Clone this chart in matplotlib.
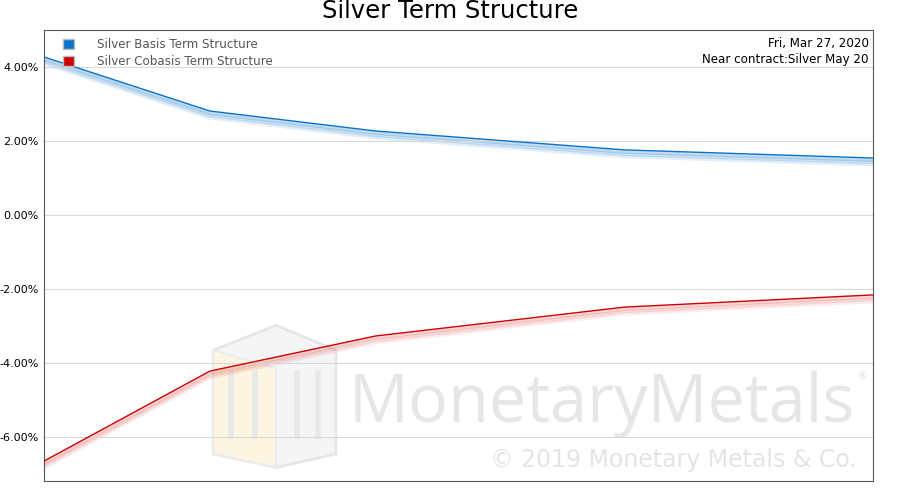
import matplotlib.pyplot as plt
from matplotlib.patches import Polygon
from matplotlib.ticker import FuncFormatter

# months after the near contract (May 20, Jul 20, Sep 20, Dec 20, Mar 21)
months = [0, 2, 4, 7, 10]
basis = [4.27, 2.81, 2.27, 1.76, 1.54]
cobasis = [-6.65, -4.22, -3.27, -2.49, -2.16]

fig = plt.figure(figsize=(9, 5), dpi=100)
ax = fig.add_axes([0.049, 0.038, 0.921, 0.902])

# watermark
ax.text(0.978, 0.131, 'MonetaryMetals', transform=ax.transAxes, ha='right', va='baseline',
        fontsize=48, color='#e6e6e6', zorder=0, family='Open Sans')
ax.text(0.993, 0.225, '®', transform=ax.transAxes, ha='right', fontsize=8, color='#e2e2e2', zorder=0)
ax.text(0.98, 0.031, '© 2019 Monetary Metals & Co.', transform=ax.transAxes, ha='right',
        va='baseline', fontsize=17, color='#e4e4e4', zorder=0)
hx = [0.204, 0.28, 0.352, 0.352, 0.28, 0.204]
hy = [0.29, 0.345, 0.29, 0.06, 0.03, 0.06]
ax.add_patch(Polygon(list(zip(hx, hy)), closed=True, transform=ax.transAxes,
                     facecolor='#f5f5f5', edgecolor='#e6e6e6', lw=2, zorder=0))
ax.add_patch(Polygon([(0.204, 0.29), (0.28, 0.25), (0.28, 0.03), (0.204, 0.06)], closed=True,
                     transform=ax.transAxes, facecolor='#fbf5e2', edgecolor='#ececec', lw=1.5, zorder=0))
for bx in [0.225, 0.255, 0.305, 0.33]:
    ax.plot([bx, bx], [0.1, 0.24], transform=ax.transAxes, color='#e8e8e8', lw=4, zorder=0)

# soft shadow under the lines
for off, a in [(-0.06, 0.25), (-0.12, 0.18), (-0.18, 0.12)]:
    ax.plot(months, [v + off for v in basis], color='#0a72c8', lw=2.5, alpha=a, zorder=1)
    ax.plot(months, [v + off for v in cobasis], color='#e03030', lw=2.5, alpha=a * 0.8, zorder=1)

ax.plot(months, basis, color='#0a72c8', lw=1, zorder=3, label='Silver Basis Term Structure')
ax.plot(months, cobasis, color='#cc0000', lw=1, zorder=3, label='Silver Cobasis Term Structure')

ax.set_xlim(0, 10)
ax.set_ylim(-7.19, 5.0)
ax.set_yticks([-6, -4, -2, 0, 2, 4])
ax.yaxis.set_major_formatter(FuncFormatter(lambda v, p: f'{v:.2f}%'))
ax.tick_params(axis='y', labelsize=8, length=0, pad=4)
ax.set_xticks([])
ax.grid(axis='y', color='#d8d8d8', lw=0.8, zorder=0)
for s in ax.spines.values():
    s.set_color('#555555')

h1 = plt.Rectangle((0, 0), 1, 1, facecolor='#0a72c8', edgecolor='#bbbbbb')
h2 = plt.Rectangle((0, 0), 1, 1, facecolor='#cc0000', edgecolor='#bbbbbb')
leg = ax.legend([h1, h2], ['Silver Basis Term Structure', 'Silver Cobasis Term Structure'],
                loc='upper left', bbox_to_anchor=(0.01, 1.005), frameon=False, fontsize=8.6,
                handlelength=0.9, handleheight=0.9, handletextpad=1.9, labelspacing=0.3)
for t in leg.get_texts():
    t.set_color('#555555')

ax.text(0.995, 0.985, 'Fri, Mar 27, 2020\nNear contract:Silver May 20', transform=ax.transAxes,
        ha='right', va='top', fontsize=8.6, linespacing=1.35)

fig.text(0.5, 0.978, 'Silver Term Structure', ha='center', va='center', fontsize=17.5)
fig.savefig('out.png', dpi=100)
